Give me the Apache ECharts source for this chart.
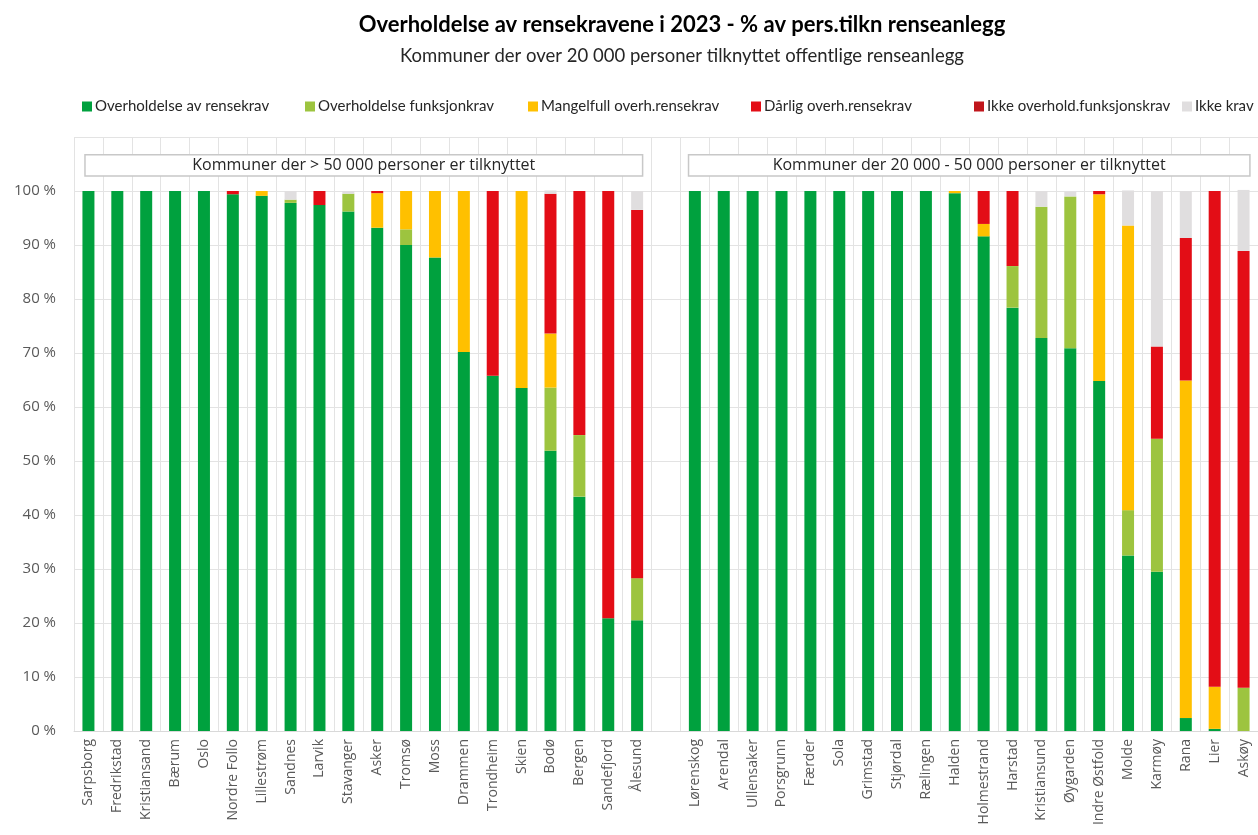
<!DOCTYPE html>
<html>
<head>
<meta charset="utf-8">
<script src="https://cdn.jsdelivr.net/npm/echarts@6/dist/echarts.min.js"></script>
<style>html,body{margin:0;padding:0;background:#fff}#c{width:1258px;height:835px}</style>
</head>
<body>
<div id="c"></div>
<script>
var categories = ['Sarpsborg','Fredrikstad','Kristiansand','Bærum','Oslo','Nordre Follo','Lillestrøm','Sandnes','Larvik','Stavanger','Asker','Tromsø','Moss','Drammen','Trondheim','Skien','Bodø','Bergen','Sandefjord','Ålesund',
  '',
  'Lørenskog','Arendal','Ullensaker','Porsgrunn','Færder','Sola','Grimstad','Stjørdal','Rælingen','Halden','Holmestrand','Harstad','Kristiansund','Øygarden','Indre Østfold','Molde','Karmøy','Rana','Lier','Askøy'];

var seriesNames = ['Overholdelse av rensekrav','Overholdelse funksjonkrav','Mangelfull overh.rensekrav','Dårlig overh.rensekrav','Ikke overhold.funksjonskrav','Ikke krav'];

var overholdelseRensekrav = [100,100,100,100,100,99.4,99.1,97.8,97.4,96.2,93.2,90.0,87.7,70.2,65.8,63.5,51.9,43.4,20.9,20.5,
  null,
  100,100,100,100,100,100,100,100,100,99.6,91.6,78.4,72.8,70.9,64.8,32.5,29.5,2.4,0.4,0];
var overholdelseFunksjonkrav = [0,0,0,0,0,0,0,0.6,0,3.3,0,2.9,0,0,0,0,11.7,11.4,0,7.8,
  null,
  0,0,0,0,0,0,0,0,0,0,0,7.7,24.3,28.1,0,8.4,24.6,0,0,8.0];
var mangelfull = [0,0,0,0,0,0,0.9,0,0,0,6.4,7.1,12.3,29.8,0,36.5,10.0,0,0,0,
  null,
  0,0,0,0,0,0,0,0,0,0.4,2.3,0,0,0,34.6,52.7,0,62.5,7.8,0];
var darlig = [0,0,0,0,0,0.6,0,0,2.6,0,0.4,0,0,0,34.2,0,25.9,45.2,79.1,68.2,
  null,
  0,0,0,0,0,0,0,0,0,0,6.1,13.9,0,0,0.6,0,17.1,26.4,91.8,80.9];
var ikkeOverhold = [0,0,0,0,0,0,0,0,0,0,0,0,0,0,0,0,0,0,0,0,
  null,
  0,0,0,0,0,0,0,0,0,0,0,0,0,0,0,0,0,0,0,0];
var ikkeKrav = [0,0,0,0,0,0,0,1.6,0,0.5,0,0,0,0,0,0,0.6,0,0,3.5,
  null,
  0,0,0,0,0,0,0,0,0,0,0,0,2.9,0.9,0,6.5,28.8,8.7,0,11.3];

var yTicks = [0,10,20,30,40,50,60,70,80,90,100];
var groupLabels = ['Kommuner der > 50 000 personer er tilknyttet','Kommuner der 20 000 - 50 000 personer er tilknyttet'];

var colors = ['#00A13E','#9DC43F','#FFC000','#E30D16','#C0161C','#E0DEDF'];
var seriesData = [overholdelseRensekrav, overholdelseFunksjonkrav, mangelfull, darlig, ikkeOverhold, ikkeKrav];

var legendLeft = [82, 305, 528, 751, 974, 1182];

var chart = echarts.init(document.getElementById('c'), null, {renderer:'canvas'});

var legends = seriesNames.map(function(n, i){
  return {
    data:[n], left: legendLeft[i], top: 99, padding: 0, itemWidth: 10, itemHeight: 10, itemGap: 0,
    icon: 'rect',
    textStyle: {fontFamily:'Lato', fontSize: 15, color:'#262626', padding:[0,0,0,-2]},
    selectedMode: false
  };
});

var series = seriesNames.map(function(n, i){
  return {
    name: n, type: 'bar', stack: 'total', barWidth: 12,
    itemStyle: {color: colors[i]},
    data: seriesData[i],
    animation: false
  };
});

chart.setOption({
  animation: false,
  title: [{
    text: 'Overholdelse av rensekravene i 2023 - % av pers.tilkn renseanlegg',
    left: 677, textAlign: 'center', top: 9,
    textStyle: {fontFamily:'Lato', fontWeight:'bold', fontSize: 22, color:'#000'}
  },{
    text: 'Kommuner der over 20 000 personer tilknyttet offentlige renseanlegg',
    left: 677, textAlign: 'center', top: 42,
    textStyle: {fontFamily:'Lato', fontWeight:'normal', fontSize: 18.5, color:'#262626'}
  }],
  legend: legends,
  grid: {left: 74, top: 137, right: -5, bottom: 104, containLabel: false},
  xAxis: {
    type: 'category', data: categories, boundaryGap: true,
    axisLine: {show: true, lineStyle: {color:'#D9D9D9'}},
    axisTick: {show: false},
    splitLine: {show: true, lineStyle: {color:'#E3E3E3', width: 1}},
    axisLabel: {rotate: 90, interval: 0, fontFamily:'Open Sans', fontSize: 14, color:'#595959', margin: 8}
  },
  yAxis: {
    type: 'value', min: 0, max: 110, interval: 10,
    axisLine: {show: false}, axisTick: {show: false},
    splitLine: {lineStyle: {color:'#E3E3E3', width: 1}},
    axisLabel: {
      fontFamily:'Open Sans', fontSize: 15, color:'#595959', margin: 18,
      formatter: function(v){ return yTicks.indexOf(v) >= 0 ? v + ' %' : ''; }
    }
  },
  series: series
});

function box(i0, off0, i1, off1, text){
  var bw = chart.convertToPixel({gridIndex:0}, [1, 0])[0] - chart.convertToPixel({gridIndex:0}, [0, 0])[0];
  var p0 = chart.convertToPixel({gridIndex:0}, [i0, 106.7]);
  var p1 = chart.convertToPixel({gridIndex:0}, [i1, 102.8]);
  var x0 = p0[0] + off0 * bw, x1 = p1[0] + off1 * bw;
  return [{
    type:'rect', shape:{x:x0, y:p0[1], width:x1-x0, height:p1[1]-p0[1]},
    style:{fill:'#fff', stroke:'#C8C8C8', lineWidth:1.5}, z:100
  },{
    type:'text', x:(x0+x1)/2, y:(p0[1]+p1[1])/2,
    style:{text:text, textAlign:'center', textVerticalAlign:'middle', fontFamily:'Open Sans', fontSize:16, fill:'#262626'}, z:101
  }];
}
chart.setOption({
  graphic: [].concat(
    box(0, -0.12, 19, 0.19, groupLabels[0]),
    box(21, -0.22, 40, 0.22, groupLabels[1])
  )
});
</script>
</body>
</html>
